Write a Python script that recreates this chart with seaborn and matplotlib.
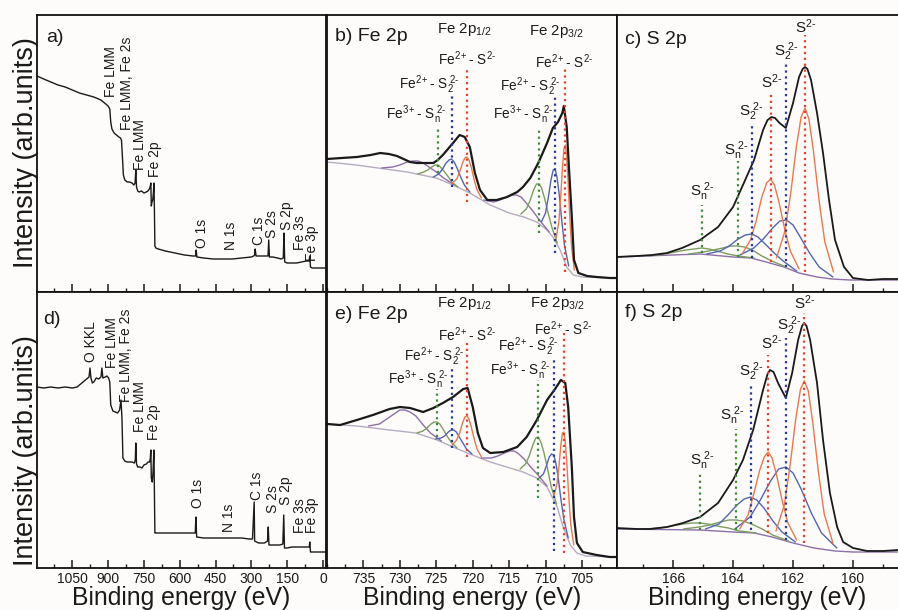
import numpy as np
import pandas as pd
import matplotlib
matplotlib.use("Agg")
import matplotlib.pyplot as plt
from matplotlib.ticker import MultipleLocator
import seaborn as sns

# ---------------- survey spectra (binding energy eV, intensity arb.) ----------------
a_x = [1198, 1170, 1140, 1110, 1080, 1050, 1020, 990, 960, 930, 910, 900, 893, 889, 884, 875, 865, 855,
       848, 844, 840, 836, 830, 820, 810, 800, 792, 787, 784, 781, 776, 770, 760, 750, 740, 733, 727, 723,
       721, 719, 716, 713, 710, 708, 706, 704, 700, 690, 660, 620, 580, 545, 533, 531, 528, 500, 460, 420,
       400, 380, 340, 300, 290, 286, 284, 280, 260, 240, 230, 227, 224, 210, 190, 175, 166, 163, 160, 150,
       130, 110, 90, 70, 58, 55, 52, 45, 30, 10, -12]
a_y = [216, 213, 210, 207, 205, 202, 199, 197, 195, 192, 188, 186, 183, 170, 163, 159, 157, 155,
       154, 152, 135, 117, 112, 110, 110, 109, 107, 109, 122, 105, 101, 100, 101, 99, 100, 101, 103, 106,
       109, 86, 90, 92, 100, 109, 82, 46, 44, 43, 41, 39, 37, 36, 36, 42, 35, 34, 33, 33,
       33, 33, 34, 35, 36, 37, 43, 36, 36, 36, 36, 52, 35, 35, 34, 33, 34, 59, 30, 29,
       29, 29, 30, 31, 31, 36, 25, 24, 24, 24, 24]

d_x = [1198, 1170, 1140, 1110, 1080, 1050, 1030, 1015, 1000, 990, 980, 976, 972, 966, 960, 950, 940, 930,
       926, 922, 912, 905, 898, 893, 889, 880, 870, 860, 852, 846, 842, 838, 830, 820, 810, 800, 790, 786,
       784, 781, 776, 766, 758, 750, 740, 733, 726, 723, 721, 719, 715, 712, 709, 708, 706, 704, 700, 660,
       620, 580, 545, 535, 532, 529, 500, 460, 420, 380, 340, 310, 295, 288, 286, 270, 245, 232, 229, 226,
       200, 180, 168, 164, 161, 150, 130, 110, 90, 70, 57, 55, 52, 40, 20, -12]
d_y = [181, 180, 181, 180, 181, 180, 181, 184, 187, 189, 191, 200, 190, 185, 186, 190, 189, 191,
       200, 190, 191, 192, 190, 186, 163, 157, 156, 155, 158, 168, 150, 110, 107, 106, 106, 106, 105, 108,
       125, 104, 101, 101, 100, 103, 104, 106, 106, 110, 118, 90, 86, 95, 113, 118, 75, 35, 35, 35,
       35, 35, 35, 35, 51, 31, 30, 30, 30, 30, 30, 29, 29, 66, 27, 25, 25, 27, 41, 23,
       23, 23, 24, 53, 20, 20, 21, 21, 21, 21, 21, 26, 16, 16, 16, 16]

survey_ticks = [1050, 900, 750, 600, 450, 300, 150, 0]
a_labels = ["Fe LMM", "Fe LMM, Fe 2s", "Fe LMM", "Fe 2p", "O 1s", "N 1s", "C 1s", "S 2s", "S 2p", "Fe 3s", "Fe 3p"]
a_lab_x = [888, 821, 767, 704, 507, 386, 268, 214, 151, 98, 45]
a_lab_y = [195, 162, 122, 115, 44, 42, 47, 54, 62, 42, 31]
d_labels = ["O KKL", "Fe LMM", "Fe LMM, Fe 2s", "Fe LMM", "Fe 2p", "O 1s", "N 1s", "C 1s", "S 2s", "S 2p", "Fe 3s", "Fe 3p"]
d_lab_x = [972, 884, 825, 767, 708, 524, 394, 276, 209, 155, 98, 45]
d_lab_y = [206, 200, 166, 136, 128, 60, 36, 68, 55, 63, 35, 35]

# ---------------- Fe 2p, top (b) ----------------
b_data_x = [740, 738, 735.9, 734, 732.7, 731.5, 730.4, 729.5, 728.6, 727.7, 726.8, 725.4, 724.8, 724.1, 723.4,
            722.7, 721.8, 721.1, 720.4, 719.7, 719.0, 718.0, 716.7, 715.3, 713.9, 713.1, 712.1, 711.0, 709.8,
            709.0, 708.3, 707.7, 707.5, 707.1, 706.8, 706.4, 706.1, 705.5, 704.3, 703, 701.2, 700.2]
b_data_y = [133, 134, 135, 137, 139, 138, 136, 133, 130, 129, 129, 129, 132, 137, 143,
            149, 157, 155, 145, 119, 102, 92, 92, 95, 100, 105, 114, 129, 149,
            164, 170, 179, 186, 165, 125, 75, 32, 19, 16, 15, 14, 14]
b_bg_x = [740, 736, 733, 729, 725, 722.7, 720.4, 717.6, 715, 713, 711.2, 709.8, 709, 708, 707.1, 706.2, 705, 700.2]
b_bg_y = [130, 127, 124, 120, 114, 107, 99, 87, 79, 75, 70, 62, 55, 42, 25, 17, 15, 14]
b_sat1_x = [722.5, 724, 725, 726, 726.8, 727.5, 728.2, 729, 730, 731, 732.5]
b_sat1_y = [107, 114, 120, 125, 129, 131, 131, 130, 127, 125, 124]
b_g1_x = [722.05, 722.88, 723.43, 723.98, 724.42, 724.8, 725.19, 725.63, 726.18, 726.73, 727.55]
b_g1_y = [105, 110, 116, 121, 125, 127, 127, 125, 122, 120, 118]
b_b1_x = [720.4, 721.15, 721.65, 722.15, 722.55, 722.9, 723.25, 723.65, 724.15, 724.65, 725.4]
b_b1_y = [100, 107, 115, 124, 130, 133, 132, 129, 123, 118, 115]
b_r1_x = [718.8, 719.4, 719.8, 720.2, 720.52, 720.8, 721.08, 721.4, 721.8, 722.2, 722.8]
b_r1_y = [94, 102, 112, 125, 132, 135, 134, 129, 120, 113, 109]
b_sat2_x = [709.5, 710.85, 711.75, 712.65, 713.37, 714.0, 714.63, 715.35, 716.25, 717.15, 718.5]
b_sat2_y = [60, 72, 81, 89, 95, 97, 97, 95, 92, 90, 92]
b_g2_x = [708.4, 709.15, 709.65, 710.15, 710.55, 710.9, 711.25, 711.65, 712.15, 712.65, 713.4]
b_g2_y = [49, 65, 79, 94, 104, 108, 108, 102, 91, 83, 78]
b_b2_x = [706.83, 707.39, 707.76, 708.14, 708.44, 708.7, 708.96, 709.26, 709.64, 710.01, 710.58]
b_b2_y = [26, 46, 70, 98, 115, 123, 122, 112, 94, 79, 70]
b_r2_x = [706.05, 706.43, 706.68, 706.93, 707.13, 707.3, 707.48, 707.68, 707.93, 708.18, 708.55]
b_r2_y = [22, 45, 75, 113, 137, 147, 143, 125, 95, 70, 54]
b_mark_x = [724.8, 722.9, 720.8, 710.9, 708.7, 707.3]
b_mark_top = [164, 197, 225, 165, 195, 224]
b_mark_bot = [119, 105, 90, 59, 39, 20]

# ---------------- Fe 2p, bottom (e) ----------------
e_data_x = [740, 738.2, 735.9, 733.7, 731.4, 730, 728.6, 726.8, 725.4, 724.1, 722.7, 721.3, 720.7, 720.0,
            719.3, 718.6, 717.6, 715.8, 713.9, 712.6, 711.2, 709.8, 708.7, 707.9, 707.3, 706.9, 706.4,
            706.1, 705.7, 704.9, 703, 701.2, 700.2]
e_data_y = [144, 143, 148, 153, 159, 161, 160, 156, 160, 165, 171, 179, 180, 161,
            135, 120, 115, 116, 121, 131, 148, 168, 179, 188, 185, 161, 101,
            51, 25, 16, 13, 11, 11]
e_bg_x = [740, 735.9, 731.4, 727.8, 724.9, 722.7, 720.4, 717.6, 714.9, 713.1, 711.2, 709.8, 708.4, 707.6,
          706.6, 705.7, 704.5, 700.2]
e_bg_y = [144, 142, 138, 135, 128, 121, 114, 106, 100, 96, 90, 81, 61, 41, 23, 15, 12, 11]
e_sat1_x = [724.3, 725.8, 726.8, 727.8, 728.6, 729.3, 730.0, 730.8, 731.8, 732.8, 734.3]
e_sat1_y = [127, 135, 143, 152, 156, 158, 158, 154, 149, 144, 142]
e_g1_x = [722.15, 722.98, 723.53, 724.08, 724.52, 724.9, 725.29, 725.73, 726.28, 726.83, 727.65]
e_g1_y = [120, 126, 132, 139, 144, 146, 146, 144, 140, 137, 135]
e_b1_x = [720.1, 720.85, 721.35, 721.85, 722.25, 722.6, 722.95, 723.35, 723.85, 724.35, 725.1]
e_b1_y = [114, 119, 125, 131, 136, 138, 138, 136, 132, 130, 129]
e_r1_x = [718.8, 719.4, 719.8, 720.2, 720.52, 720.8, 721.08, 721.4, 721.8, 722.2, 722.8]
e_r1_y = [111, 119, 129, 141, 149, 152, 151, 145, 135, 128, 123]
e_sat2_x = [709.8, 711.15, 712.05, 712.95, 713.67, 714.3, 714.93, 715.65, 716.55, 717.45, 718.8]
e_sat2_y = [82, 94, 101, 109, 114, 117, 117, 115, 112, 110, 110]
e_g2_x = [708.5, 709.25, 709.75, 710.25, 710.65, 711.0, 711.35, 711.75, 712.25, 712.75, 713.5]
e_g2_y = [64, 82, 100, 116, 126, 131, 130, 123, 112, 104, 99]
e_b2_x = [706.9, 707.5, 707.9, 708.3, 708.62, 708.9, 709.18, 709.5, 709.9, 710.3, 710.9]
e_b2_y = [30, 49, 69, 92, 106, 113, 114, 111, 102, 94, 90]
e_r2_x = [706.13, 706.54, 706.81, 707.09, 707.31, 707.5, 707.69, 707.91, 708.19, 708.46, 708.88]
e_r2_y = [23, 43, 71, 105, 127, 136, 135, 122, 100, 83, 72]
e_mark_x = [724.9, 722.9, 720.8, 711.0, 708.9, 707.5]
e_mark_top = [179, 200, 226, 188, 211, 235]
e_mark_bot = [131, 120, 111, 70, 17, 15]

# ---------------- S 2p, top (c) ----------------
c_data_x = [167.9, 167.2, 166.7, 166.2, 165.7, 165.1, 164.5, 164.0, 163.7, 163.3, 163.0, 162.85, 162.72, 162.6,
            162.45, 162.24, 162.0, 161.8, 161.68, 161.6, 161.52, 161.4, 161.2, 161.0, 160.8, 160.6, 160.3, 160.0,
            159.5, 159.0, 158.5]
c_data_y = [35, 36, 37, 39, 44, 52, 65, 85, 105, 132, 162, 172, 175, 174,
            169, 164, 189, 215, 223, 225, 223, 212, 179, 139, 92, 52, 25, 14,
            12, 13, 13]
c_bg_x = [167.9, 165.1, 164.0, 163.4, 162.9, 162.3, 161.8, 161.2, 160.7, 160.1, 158.5]
c_bg_y = [35, 38, 35, 34, 30, 25, 19, 15, 13, 12, 12]
c_ra_x = [160.65, 160.94, 161.13, 161.32, 161.47, 161.6, 161.73, 161.89, 162.08, 162.27, 162.55]
c_ra_y = [20, 50, 91, 141, 173, 184, 175, 145, 98, 61, 34]
c_rb_x = [161.8, 162.09, 162.28, 162.47, 162.62, 162.75, 162.88, 163.04, 163.23, 163.42, 163.7]
c_rb_y = [23, 41, 63, 90, 107, 113, 109, 95, 71, 52, 38]
c_ba_x = [160.67, 161.13, 161.45, 161.76, 162.0, 162.22, 162.44, 162.68, 162.99, 163.31, 163.77]
c_ba_y = [15, 25, 39, 55, 67, 72, 71, 64, 53, 44, 37]
c_bb_x = [161.88, 162.33, 162.63, 162.93, 163.17, 163.38, 163.59, 163.83, 164.13, 164.43, 164.88]
c_bb_y = [21, 31, 39, 48, 55, 58, 57, 53, 46, 41, 38]
c_ga_x = [162.23, 162.71, 163.04, 163.36, 163.62, 163.85, 164.08, 164.34, 164.66, 164.99, 165.48]
c_ga_y = [25, 31, 36, 42, 45, 46, 46, 44, 42, 40, 38]
c_gb_x = [163.3, 163.83, 164.18, 164.53, 164.8, 165.05, 165.3, 165.58, 165.93, 166.28, 166.8]
c_gb_y = [34, 36, 38, 41, 43, 44, 43, 42, 40, 38, 36]
c_mark_x = [165.04, 163.85, 163.38, 162.74, 162.24, 161.6]
c_mark_top = [87, 131, 169, 199, 229, 257]
c_mark_bot = [39, 35, 34, 30, 25, 20]

# ---------------- S 2p, bottom (f) ----------------
f_data_x = [167.9, 167.2, 166.77, 166.2, 165.67, 165.1, 164.5, 164.0, 163.67, 163.33, 163.0, 162.85, 162.77,
            162.65, 162.5, 162.24, 162.03, 161.83, 161.7, 161.63, 161.55, 161.43, 161.2, 161.0, 160.77, 160.53,
            160.33, 160.0, 159.53, 159.0, 158.5]
f_data_y = [40, 39, 39, 41, 45, 51, 65, 88, 108, 138, 178, 194, 198,
            196, 185, 170, 195, 228, 242, 245, 242, 228, 185, 128, 75, 41,
            26, 20, 17, 17, 18]
f_bg_x = [167.9, 165.1, 164.0, 163.3, 162.7, 162.0, 161.3, 160.6, 160.0, 158.5]
f_bg_y = [39, 38, 36, 35, 31, 25, 20, 17, 16, 16]
f_ra_x = [160.67, 160.96, 161.15, 161.34, 161.49, 161.62, 161.75, 161.91, 162.1, 162.29, 162.57]
f_ra_y = [25, 54, 95, 145, 177, 187, 179, 149, 102, 63, 37]
f_rb_x = [161.88, 162.17, 162.36, 162.55, 162.7, 162.83, 162.96, 163.12, 163.31, 163.5, 163.78]
f_rb_y = [28, 45, 67, 93, 110, 116, 111, 97, 74, 53, 39]
f_ba_x = [160.54, 161.05, 161.39, 161.73, 162.0, 162.24, 162.48, 162.75, 163.09, 163.43, 163.94]
f_ba_y = [20, 35, 55, 79, 95, 101, 99, 87, 68, 51, 39]
f_bb_x = [161.92, 162.37, 162.67, 162.97, 163.21, 163.42, 163.63, 163.87, 164.17, 164.47, 164.92]
f_bb_y = [26, 36, 47, 60, 68, 71, 69, 63, 53, 44, 39]
f_ga_x = [162.15, 162.68, 163.03, 163.38, 163.66, 163.9, 164.15, 164.43, 164.78, 165.13, 165.65]
f_ga_y = [27, 33, 39, 44, 47, 48, 48, 46, 43, 41, 39]
f_gb_x = [163.23, 163.79, 164.16, 164.54, 164.84, 165.1, 165.36, 165.66, 166.04, 166.41, 166.98]
f_gb_y = [35, 37, 40, 42, 44, 45, 45, 44, 42, 40, 39]
f_mark_x = [165.1, 163.9, 163.4, 162.83, 162.24, 161.62]
f_mark_top = [95, 139, 183, 213, 230, 255]
f_mark_bot = [38, 38, 38, 35, 28, 25]

# ---------------- annotations ----------------
FE3 = r"Fe$^{3+}$- S$_n^{\ 2\text{-}}$"
FE2S2 = r"Fe$^{2+}$- S$_2^{\ 2\text{-}}$"
FE2S = r"Fe$^{2+}$- S$^{2\text{-}}$"
P12 = r"Fe 2p$_{1/2}$"
P32 = r"Fe 2p$_{3/2}$"
b_ann_txt = [P12, P32, FE2S, FE2S2, FE3, FE2S, FE2S2, FE3]
b_ann_x = [721.1, 708.6, 720.8, 725.9, 727.7, 707.5, 712.1, 713.1]
b_ann_y = [262, 260, 233, 207, 177, 230, 205, 177]
e_ann_txt = [P12, P32, FE2S, FE2S2, FE3, FE2S, FE2S2, FE3]
e_ann_x = [721.1, 708.4, 720.8, 725.3, 727.5, 707.6, 712.3, 713.5]
e_ann_y = [264, 264, 233, 211, 188, 239, 221, 197]
ann_sizes = [10.8, 10.8, 9.8, 9.8, 9.8, 9.8, 9.8, 9.8]
SN = r"S$_n^{\ 2\text{-}}$"
S22 = r"S$_2^{\ 2\text{-}}$"
S2 = r"S$^{2\text{-}}$"
c_ann_txt = [S2, S22, S2, S22, SN, SN]
c_ann_x = [161.58, 162.24, 162.71, 163.41, 163.9, 165.03]
c_ann_y = [265, 240, 210, 180, 141, 100]
f_ann_txt = [S2, S22, S2, S22, SN, SN]
f_ann_x = [161.6, 162.13, 162.71, 163.41, 164.03, 165.03]
f_ann_y = [265, 242, 225, 196, 152, 107]

# ---------------- style ----------------
PAGE = "#fdfcfa"
RED_L, RED_C = "#e8432a", "#e8794f"
BLUE_L, BLUE_C = "#27399a", "#5266b0"
GREEN_L, GREEN_C = "#3f8a38", "#7e9d5e"
PURPLE_C = "#8e6fa9"
BG_C = "#b6acbf"
MARK_COLORS = [GREEN_L, GREEN_L, BLUE_L, RED_L, BLUE_L, RED_L]
FE_MARK_COLORS = [GREEN_L, BLUE_L, RED_L, GREEN_L, BLUE_L, RED_L]

sns.set_theme(style="ticks")
plt.rcParams["font.family"] = ["Liberation Sans", "DejaVu Sans"]
plt.rcParams["mathtext.fontset"] = "custom"
plt.rcParams["mathtext.rm"] = "Liberation Sans"
plt.rcParams["mathtext.it"] = "Liberation Sans"
plt.rcParams["mathtext.default"] = "regular"

W, H = 898, 610
fig = plt.figure(figsize=(W / 100, H / 100), dpi=100, facecolor=PAGE)


def px_axes(x0, y0, x1, y1):
    ax = fig.add_axes([x0 / W, 1 - y1 / H, (x1 - x0) / W, (y1 - y0) / H])
    ax.set_facecolor(PAGE)
    for s in ax.spines.values():
        s.set_linewidth(1.3)
        s.set_color("#111111")
    ax.set_yticks([])
    return ax


def line(ax, x, y, color, lw):
    sns.lineplot(x=x, y=y, ax=ax, color=color, linewidth=lw, sort=False, estimator=None)


axA = px_axes(37, 15, 326, 292)
axB = px_axes(327, 15, 617, 292)
axC = px_axes(617, 15, 898, 292)
axD = px_axes(37, 292, 326, 568)
axE = px_axes(327, 292, 617, 568)
axF = px_axes(617, 292, 898, 568)

# surveys
for ax, x, y, labs, lx, ly in [(axA, a_x, a_y, a_labels, a_lab_x, a_lab_y),
                               (axD, d_x, d_y, d_labels, d_lab_x, d_lab_y)]:
    line(ax, x, y, "#1a1a1a", 1.0)
    for t, xx, yy in zip(labs, lx, ly):
        ax.text(xx, yy, t, rotation=90, ha="center", va="bottom", fontsize=10, color="#1a1a1a")
    ax.set_xlim(1198, -13)
    ax.set_xticks(survey_ticks)
    ax.xaxis.set_minor_locator(MultipleLocator(75))

# Fe 2p panels
fe_sets = [
    (axB, b_data_x, b_data_y, b_bg_x, b_bg_y,
     [(b_sat1_x, b_sat1_y, PURPLE_C), (b_g1_x, b_g1_y, GREEN_C), (b_b1_x, b_b1_y, BLUE_C), (b_r1_x, b_r1_y, RED_C),
      (b_sat2_x, b_sat2_y, PURPLE_C), (b_g2_x, b_g2_y, GREEN_C), (b_b2_x, b_b2_y, BLUE_C), (b_r2_x, b_r2_y, RED_C)],
     b_mark_x, b_mark_top, b_mark_bot, b_ann_txt, b_ann_x, b_ann_y),
    (axE, e_data_x, e_data_y, e_bg_x, e_bg_y,
     [(e_sat1_x, e_sat1_y, PURPLE_C), (e_g1_x, e_g1_y, GREEN_C), (e_b1_x, e_b1_y, BLUE_C), (e_r1_x, e_r1_y, RED_C),
      (e_sat2_x, e_sat2_y, PURPLE_C), (e_g2_x, e_g2_y, GREEN_C), (e_b2_x, e_b2_y, BLUE_C), (e_r2_x, e_r2_y, RED_C)],
     e_mark_x, e_mark_top, e_mark_bot, e_ann_txt, e_ann_x, e_ann_y),
]
for ax, dx, dy, gx, gy, comps, mx, mt, mb, at, ax_, ay in fe_sets:
    line(ax, gx, gy, BG_C, 1.0)
    for cx, cy, col in comps:
        line(ax, cx, cy, col, 1.0)
    line(ax, dx, dy, "#1a1a1a", 1.6)
    for xx, t, b, col in zip(mx, mt, mb, FE_MARK_COLORS):
        ax.vlines(xx, b, t, colors=col, linestyles=":", linewidth=1.6)
    for t, xx, yy, fs in zip(at, ax_, ay, ann_sizes):
        ax.text(xx, yy, t, ha="center", va="center", fontsize=fs, color="#1a1a1a")
    ax.set_xlim(740, 700.2)
    ax.set_xticks([735, 730, 725, 720, 715, 710, 705])
    ax.xaxis.set_minor_locator(MultipleLocator(2.5))

# S 2p panels
s_sets = [
    (axC, c_data_x, c_data_y, c_bg_x, c_bg_y,
     [(c_gb_x, c_gb_y, GREEN_C), (c_ga_x, c_ga_y, GREEN_C), (c_bb_x, c_bb_y, BLUE_C), (c_ba_x, c_ba_y, BLUE_C),
      (c_rb_x, c_rb_y, RED_C), (c_ra_x, c_ra_y, RED_C)],
     c_mark_x, c_mark_top, c_mark_bot, c_ann_txt, c_ann_x, c_ann_y),
    (axF, f_data_x, f_data_y, f_bg_x, f_bg_y,
     [(f_gb_x, f_gb_y, GREEN_C), (f_ga_x, f_ga_y, GREEN_C), (f_bb_x, f_bb_y, BLUE_C), (f_ba_x, f_ba_y, BLUE_C),
      (f_rb_x, f_rb_y, RED_C), (f_ra_x, f_ra_y, RED_C)],
     f_mark_x, f_mark_top, f_mark_bot, f_ann_txt, f_ann_x, f_ann_y),
]
for ax, dx, dy, gx, gy, comps, mx, mt, mb, at, ax_, ay in s_sets:
    line(ax, gx, gy, PURPLE_C, 1.0)
    for cx, cy, col in comps:
        line(ax, cx, cy, col, 1.0)
    line(ax, dx, dy, "#1a1a1a", 1.3)
    for xx, t, b, col in zip(mx, mt, mb, MARK_COLORS):
        ax.vlines(xx, b, t, colors=col, linestyles=":", linewidth=1.6)
    for t, xx, yy in zip(at, ax_, ay):
        ax.text(xx, yy, t, ha="center", va="center", fontsize=11, color="#1a1a1a")
    ax.set_xlim(167.87, 158.5)
    ax.set_xticks([166, 164, 162, 160])
    ax.xaxis.set_minor_locator(MultipleLocator(1))
    ax.spines["right"].set_visible(False)

for ax in [axA, axB, axC]:
    ax.set_ylim(0, 277)
    ax.tick_params(axis="x", labelbottom=False)
    ax.set_xlabel("")
for ax in [axD, axE, axF]:
    ax.set_ylim(0, 276)
    ax.set_xlabel("Binding energy (eV)", fontsize=17.8, labelpad=0, color="#1a1a1a")

for ax in [axA, axB, axC, axD, axE, axF]:
    ax.set_ylabel("")
    ax.tick_params(axis="x", which="major", direction="in", length=6, width=1.1, labelsize=10,
                   pad=3, colors="#1a1a1a", top=False)
    ax.tick_params(axis="x", which="minor", direction="in", length=3, width=1.0, top=False, colors="#1a1a1a")

# y-axis titles placed beside the left spine of each row
fig.text(26 / W, 1 - 153 / H, "Intensity (arb.units)", rotation=90, ha="center", va="center",
         fontsize=19.5, color="#1a1a1a")
fig.text(26 / W, 1 - 451 / H, "Intensity (arb.units)", rotation=90, ha="center", va="center",
         fontsize=19.5, color="#1a1a1a")

panel_text = [(axA, 0.031, 0.917, "a)"), (axB, 0.028, 0.921, "b) Fe 2p"), (axC, 0.028, 0.91, "c) S 2p"),
              (axD, 0.021, 0.899, "d)"), (axE, 0.028, 0.917, "e) Fe 2p"), (axF, 0.028, 0.924, "f) S 2p")]
for ax, xx, yy, t in panel_text:
    ax.text(xx, yy, t, transform=ax.transAxes, ha="left", va="center", fontsize=14, color="#1a1a1a")

fig.savefig("out.png", dpi=100, facecolor=PAGE)
